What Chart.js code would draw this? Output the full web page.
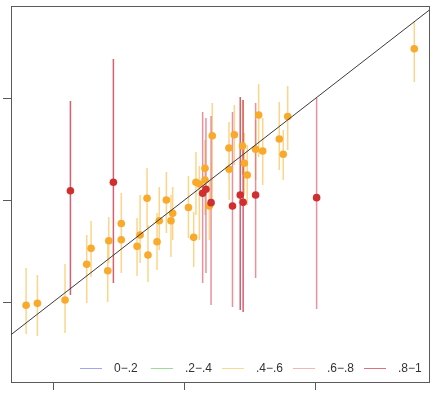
<!DOCTYPE html>
<html>
<head>
<meta charset="utf-8">
<script src="https://cdn.jsdelivr.net/npm/chart.js@4/dist/chart.umd.min.js"></script>
<style>
  html, body { margin: 0; padding: 0; background: #fff; }
  #wrap { position: relative; width: 433px; height: 395px; }
  canvas { position: absolute; left: 0; top: 0; }
  #legend { position: absolute; left: 80px; top: 360px; display: flex; font-family: "Liberation Sans", Arial, sans-serif; font-size: 12px; color: #333; }
  .item { width: 71px; display: flex; align-items: center; height: 16px; }
  .swatch { width: 22px; height: 0; border-top: 1.5px solid; margin-right: 12px; }
</style>
</head>
<body>
<div id="wrap">
  <canvas id="c" width="433" height="395"></canvas>
  <div id="legend"></div>
</div>
<script>
// ---- Data ----
const X_TICKS = [1, 2, 3];
const Y_TICKS = [1, 2, 3];
const X_RANGE = [0.68, 3.86];
const Y_RANGE = [0.216, 3.902];
const DIAG_X = [0.68, 3.86];
const DIAG_Y = [0.68, 3.86];

const ORANGE_X  = [0.795,0.881,1.091,1.256,1.289,1.424,1.416,1.519,1.519,1.662,1.639,1.715,1.722,1.808,1.791,1.862,1.910,1.897,2.030,2.070,2.087,2.113,2.156,2.156,2.189,2.211,2.338,2.340,2.379,2.441,2.455,2.477,2.564,2.541,2.595,2.721,2.785,2.751,3.748];
const ORANGE_Y  = [0.968,0.987,1.020,1.370,1.526,1.601,1.307,1.770,1.611,1.657,1.546,2.017,1.461,1.797,1.591,2.000,1.870,1.797,1.926,1.634,2.174,2.157,2.311,2.196,1.941,2.630,2.510,2.301,2.640,2.529,2.360,2.245,2.833,2.497,2.480,2.598,2.819,2.448,3.483];
const ORANGE_HI = [1.333,1.265,1.373,1.657,1.794,1.833,1.608,2.069,1.882,2.049,1.824,2.314,1.755,2.127,1.873,2.275,2.127,2.049,2.235,1.882,2.471,2.333,2.588,2.490,2.196,2.951,2.765,2.588,2.931,2.980,2.657,2.539,3.137,2.784,2.804,2.961,3.118,2.686,3.755];
const ORANGE_LO = [0.686,0.667,0.696,0.990,1.245,1.382,1.000,1.510,1.284,1.382,1.255,1.725,1.196,1.510,1.314,1.676,1.608,1.441,1.627,1.343,1.853,1.608,2.000,1.853,1.608,2.000,2.196,2.000,2.343,2.245,2.049,1.951,2.422,2.196,2.147,2.294,2.490,2.196,3.157];

const RED_X  = [1.132,1.459,2.138,2.163,2.202,2.365,2.424,2.446,2.541,3.005];
const RED_Y  = [2.091,2.174,2.066,2.105,1.974,1.941,2.049,1.977,2.049,2.023];
const RED_HI = [2.971,3.382,2.863,2.804,2.824,2.863,3.010,2.980,2.951,3.000];
const RED_LO = [1.069,1.186,1.186,1.284,0.971,0.951,0.922,0.902,1.235,0.931];
const RED_GROUP = [".8−1",".8−1",".6−.8",".6−.8",".6−.8",".6−.8",".8−1",".8−1",".6−.8",".6−.8"];

const LEGEND_LABELS = ["0−.2", ".2−.4", ".4−.6", ".6−.8", ".8−1"];
const LEGEND_COLORS = ["#a4a4ee", "#9adc9a", "#f5dc8e", "#f3b5b5", "#d9737f"];

// ---- helpers ----
function barData(xs, lo, hi, filter) {
  const out = [];
  xs.forEach((x, i) => {
    if (filter && !filter(i)) return;
    out.push({x: x, y: lo[i]}, {x: x, y: hi[i]}, {x: x, y: null});
  });
  return out;
}
function pts(xs, ys) { return xs.map((x, i) => ({x: x, y: ys[i]})); }

const barStyle = (color, w) => ({
  type: 'scatter', showLine: true, spanGaps: false, pointRadius: 0, pointHoverRadius: 0,
  borderColor: color, borderWidth: w, fill: false
});

const datasets = [
  Object.assign({label: 'diag', data: DIAG_X.map((x, i) => ({x: x, y: DIAG_Y[i]})), order: 0}, barStyle('#3a3a3a', 1)),
  {type: 'scatter', label: 'red', data: pts(RED_X, RED_Y), pointRadius: 3.8, pointBorderWidth: 0, backgroundColor: '#cf2f2f', order: 1},
  {type: 'scatter', label: 'orange', data: pts(ORANGE_X, ORANGE_Y), pointRadius: 3.8, pointBorderWidth: 0, backgroundColor: '#f9a92b', order: 2},
  Object.assign({label: 'bars .8-1', data: barData(RED_X, RED_LO, RED_HI, i => RED_GROUP[i] === ".8−1"), order: 3}, barStyle('rgba(205,55,75,0.8)', 1.5)),
  Object.assign({label: 'bars .6-.8', data: barData(RED_X, RED_LO, RED_HI, i => RED_GROUP[i] === ".6−.8"), order: 4}, barStyle('rgba(220,100,115,0.7)', 1.5)),
  Object.assign({label: 'bars .4-.6', data: barData(ORANGE_X, ORANGE_LO, ORANGE_HI), order: 5}, barStyle('rgba(250,185,60,0.6)', 1.5))
];

const axisColor = '#5a5a5a';
function fixedTicks(vals) { return function (scale) { scale.ticks = vals.map(v => ({value: v})); }; }

new Chart(document.getElementById('c'), {
  type: 'scatter',
  data: {datasets: datasets},
  options: {
    responsive: false,
    devicePixelRatio: 1,
    animation: false,
    layout: {padding: {left: 3, top: 6, right: 4, bottom: 5}},
    plugins: {legend: {display: false}, tooltip: {enabled: false}},
    elements: {line: {tension: 0}},
    scales: {
      x: {
        type: 'linear', position: 'bottom', min: X_RANGE[0], max: X_RANGE[1],
        afterBuildTicks: fixedTicks(X_TICKS),
        ticks: {display: false},
        grid: {display: true, drawOnChartArea: false, drawTicks: true, tickLength: 8, color: axisColor, lineWidth: 1},
        border: {display: true, color: axisColor, width: 1}
      },
      y: {
        type: 'linear', position: 'left', min: Y_RANGE[0], max: Y_RANGE[1],
        afterBuildTicks: fixedTicks(Y_TICKS),
        ticks: {display: false},
        grid: {display: true, drawOnChartArea: false, drawTicks: true, tickLength: 8, color: axisColor, lineWidth: 1},
        border: {display: true, color: axisColor, width: 1}
      },
      x2: {
        type: 'linear', position: 'top', display: true,
        ticks: {display: false},
        grid: {display: false, drawTicks: false},
        border: {display: true, color: axisColor, width: 1}
      },
      y2: {
        type: 'linear', position: 'right', display: true,
        ticks: {display: false},
        grid: {display: false, drawTicks: false},
        border: {display: true, color: axisColor, width: 1}
      }
    }
  }
});

// ---- legend (real text) ----
const leg = document.getElementById('legend');
LEGEND_LABELS.forEach((lab, i) => {
  const it = document.createElement('div');
  it.className = 'item';
  const sw = document.createElement('span');
  sw.className = 'swatch';
  sw.style.borderTopColor = LEGEND_COLORS[i];
  const tx = document.createElement('span');
  tx.textContent = lab;
  it.appendChild(sw); it.appendChild(tx);
  leg.appendChild(it);
});
</script>
</body>
</html>
